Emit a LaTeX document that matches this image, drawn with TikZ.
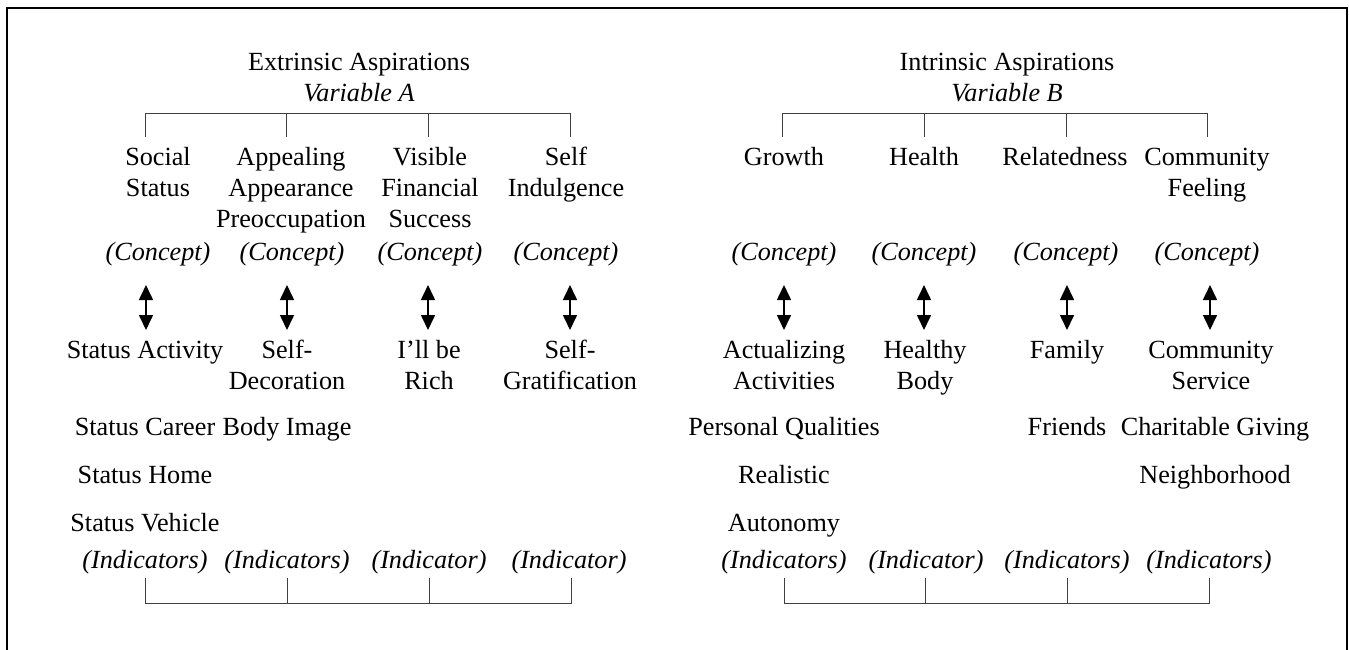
\documentclass[tikz,border=0pt]{standalone}
\usepackage{fontspec}
\setmainfont{Liberation Serif}
\usetikzlibrary{arrows.meta}

\begin{document}
\begin{tikzpicture}[x=0.5pt,y=-0.5pt,
    every node/.style={align=center,anchor=base,inner sep=0pt,
      font=\fontsize{13.1}{15.3}\selectfont},
    tag/.style={font=\fontsize{13.1}{15.3}\selectfont\itshape},
    tree/.style={draw=black!75,line width=0.5pt},
    link/.style={{Triangle[width=7pt,length=7.5pt]}-{Triangle[width=7pt,length=7.5pt]},line width=0.8pt},
    frame/.style={line width=1.3pt}]
  \useasboundingbox (0,0) rectangle (1349,649);
  \draw[frame] (7,670) -- (7,8) -- (1347,8) -- (1347,670);

  % extrinsic side (base = last line)
  \node (ea) at (359,101) {Extrinsic Aspirations\\\textit{Variable A}};
  \node (a1) at (158,196) {Social\\Status};
  \node (a2) at (291,227) {Appealing\\Appearance\\Preoccupation};
  \node (a3) at (430,227) {Visible\\Financial\\Success};
  \node (a4) at (566,196) {Self\\Indulgence};
  \node[tag] (ca1) at (158,260) {(Concept)};
  \node[tag] (ca2) at (292,260) {(Concept)};
  \node[tag] (ca3) at (430,260) {(Concept)};
  \node[tag] (ca4) at (566,260) {(Concept)};
  \node (ia1) at (145,358) {Status Activity};
  \node (ia2) at (287,389) {Self-\\Decoration};
  \node (ia3) at (429,389) {I’ll be\\Rich};
  \node (ia4) at (570,389) {Self-\\Gratification};
  \node (sc) at (145,435) {Status Career};
  \node (bi) at (287,435) {Body Image};
  \node (sh) at (145,483) {Status Home};
  \node (sv) at (145,531) {Status Vehicle};
  \node[tag] (na1) at (145,568) {(Indicators)};
  \node[tag] (na2) at (287,568) {(Indicators)};
  \node[tag] (na3) at (429,568) {(Indicator)};
  \node[tag] (na4) at (569,568) {(Indicator)};

  % intrinsic side
  \node (ib) at (1007,101) {Intrinsic Aspirations\\\textit{Variable B}};
  \node (b1) at (784,165) {Growth};
  \node (b2) at (924,165) {Health};
  \node (b3) at (1065,165) {Relatedness};
  \node (b4) at (1207,196) {Community\\Feeling};
  \node[tag] (cb1) at (784,260) {(Concept)};
  \node[tag] (cb2) at (924,260) {(Concept)};
  \node[tag] (cb3) at (1066,260) {(Concept)};
  \node[tag] (cb4) at (1207,260) {(Concept)};
  \node (ib1) at (784,389) {Actualizing\\Activities};
  \node (ib2) at (925,389) {Healthy\\Body};
  \node (ib3) at (1067,358) {Family};
  \node (ib4) at (1211,389) {Community\\Service};
  \node (pq) at (784,435) {Personal Qualities};
  \node (fr) at (1067,435) {Friends};
  \node (cg) at (1215,435) {Charitable Giving};
  \node (re) at (784,483) {Realistic};
  \node (nh) at (1215,483) {Neighborhood};
  \node (au) at (784,531) {Autonomy};
  \node[tag] (nb1) at (784,568) {(Indicators)};
  \node[tag] (nb2) at (926,568) {(Indicator)};
  \node[tag] (nb3) at (1067,568) {(Indicators)};
  \node[tag] (nb4) at (1209,568) {(Indicators)};

  % brackets
  \foreach \x [count=\i] in {145,286,428,570,782,924,1066,1207}
    \coordinate (top\i) at (\x,137);
  \foreach \x [count=\i] in {145,287,429,571,784,925,1067,1209}
    \coordinate (bot\i) at (\x,578);
  \draw[tree] (top1) -- ++(0,-24) -| (top4);
  \draw[tree] (top2) -- ++(0,-24) (top3) -- ++(0,-24);
  \draw[tree] (top5) -- ++(0,-24) -| (top8);
  \draw[tree] (top6) -- ++(0,-24) (top7) -- ++(0,-24);
  \draw[tree] (bot1) -- ++(0,25) -| (bot4);
  \draw[tree] (bot2) -- ++(0,25) (bot3) -- ++(0,25);
  \draw[tree] (bot5) -- ++(0,25) -| (bot8);
  \draw[tree] (bot6) -- ++(0,25) (bot7) -- ++(0,25);

  % concept <-> indicator arrows
  \foreach \x [count=\i] in {146,287,428,570,784,924,1067,1210} {
    \coordinate (up\i) at (\x,285);
    \coordinate (dn\i) at (\x,330);
    \draw[link] (up\i) -- (dn\i);
  }
\end{tikzpicture}
\end{document}
